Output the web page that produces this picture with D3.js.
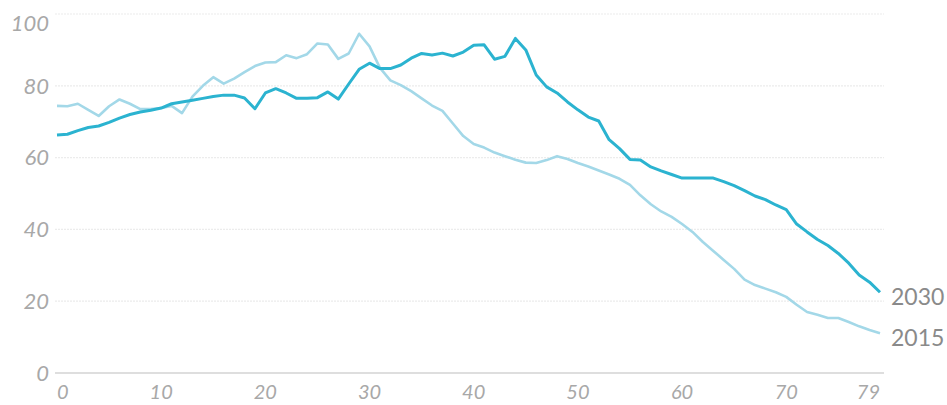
<!DOCTYPE html>
<html>
<head>
<meta charset="utf-8">
<script src="https://cdn.jsdelivr.net/npm/d3@7"></script>
<style>
  html, body { margin: 0; padding: 0; background: #fff; }
  svg { display: block; }
</style>
</head>
<body>
<svg id="chart" width="947" height="405"></svg>
<script>
const ages = d3.range(0, 80);
const series2030 = [66.3,66.5,67.5,68.4,68.8,69.8,71,72,72.7,73.2,73.8,75,75.5,76,76.5,77,77.4,77.4,76.6,73.6,
  78,79.2,78,76.5,76.5,76.7,78.3,76.3,80.5,84.6,86.3,84.8,84.8,85.8,87.7,89,88.6,89.1,88.3,89.4,
  91.3,91.4,87.4,88.2,93.2,90,83,79.7,78,75.5,73.3,71.3,70.2,65,62.5,59.5,59.3,57.4,56.3,55.3,
  54.3,54.3,54.3,54.3,53.3,52.2,50.8,49.3,48.3,46.8,45.5,41.5,39.3,37.2,35.5,33.3,30.6,27.3,25.3,22.5];
const series2015 = [74.4,74.3,75,73.3,71.6,74.3,76.2,75,73.5,73.5,73.8,74.4,72.4,77,80,82.4,80.6,82,83.8,85.5,
  86.5,86.6,88.5,87.7,88.8,91.8,91.5,87.5,89,94.5,91,85,81.5,80.2,78.5,76.5,74.5,73,69.5,66,
  63.8,62.8,61.4,60.4,59.4,58.6,58.5,59.3,60.4,59.6,58.5,57.5,56.4,55.3,54.1,52.4,49.5,47,45,43.5,
  41.5,39.3,36.5,34,31.5,29,26,24.5,23.5,22.5,21.2,19,17,16.2,15.3,15.3,14.2,13,12,11.1];
const seriesNames = ["2030", "2015"];
const yTicks = [0, 20, 40, 60, 80, 100];
const xTicks = [0, 10, 20, 30, 40, 50, 60, 70, 79];

const svg = d3.select("#chart");
const x = d3.scaleLinear().domain([0, 79]).range([57, 880]);
const y = d3.scaleLinear().domain([0, 100]).range([373, 14]);

// gridlines
svg.append("g").selectAll("line")
  .data(yTicks.filter(d => d > 0))
  .join("line")
  .attr("x1", 55).attr("x2", 884)
  .attr("y1", d => y(d)).attr("y2", d => y(d))
  .attr("stroke", "#ececec").attr("stroke-width", 1.2)
  .attr("stroke-dasharray", "2,1");

// baseline
svg.append("line")
  .attr("x1", 55).attr("x2", 884)
  .attr("y1", y(0)).attr("y2", y(0))
  .attr("stroke", "#dedede").attr("stroke-width", 2);

// y labels
svg.append("g").selectAll("text")
  .data(yTicks)
  .join("text")
  .attr("x", 49)
  .attr("y", d => y(d) + (d === 100 ? 9 : 0))
  .attr("dy", "0.35em")
  .attr("text-anchor", "end")
  .attr("font-family", "Lato, 'Open Sans', sans-serif")
  .attr("font-style", "italic")
  .attr("font-size", 22)
  .attr("fill", "#a8a8a8")
  .text(d => d);

// x labels
svg.append("g").selectAll("text")
  .data(xTicks)
  .join("text")
  .attr("x", d => x(d))
  .attr("y", 399)
  .attr("text-anchor", d => d === 0 ? "start" : (d === 79 ? "end" : "middle"))
  .attr("font-family", "Lato, 'Open Sans', sans-serif")
  .attr("font-style", "italic")
  .attr("font-size", 20)
  .attr("fill", "#a8a8a8")
  .text(d => d);

const line = d3.line().x((d, i) => x(ages[i])).y(d => y(d));

svg.append("path")
  .datum(series2015)
  .attr("fill", "none")
  .attr("stroke", "#a3d8e8")
  .attr("stroke-width", 2.6)
  .attr("stroke-linejoin", "round")
  .attr("d", line);

svg.append("path")
  .datum(series2030)
  .attr("fill", "none")
  .attr("stroke", "#2bb3d0")
  .attr("stroke-width", 3)
  .attr("stroke-linejoin", "round")
  .attr("d", line);

// end labels
const ends = [series2030[79], series2015[79]];
svg.append("g").selectAll("text")
  .data(seriesNames)
  .join("text")
  .attr("x", x(79) + 11)
  .attr("y", (d, i) => y(ends[i]) + 5)
  .attr("dy", "0.35em")
  .attr("font-family", "Lato, 'Open Sans', sans-serif")
  .attr("font-size", 23)
  .attr("fill", "#8a8a8a")
  .text(d => d);
</script>
</body>
</html>
